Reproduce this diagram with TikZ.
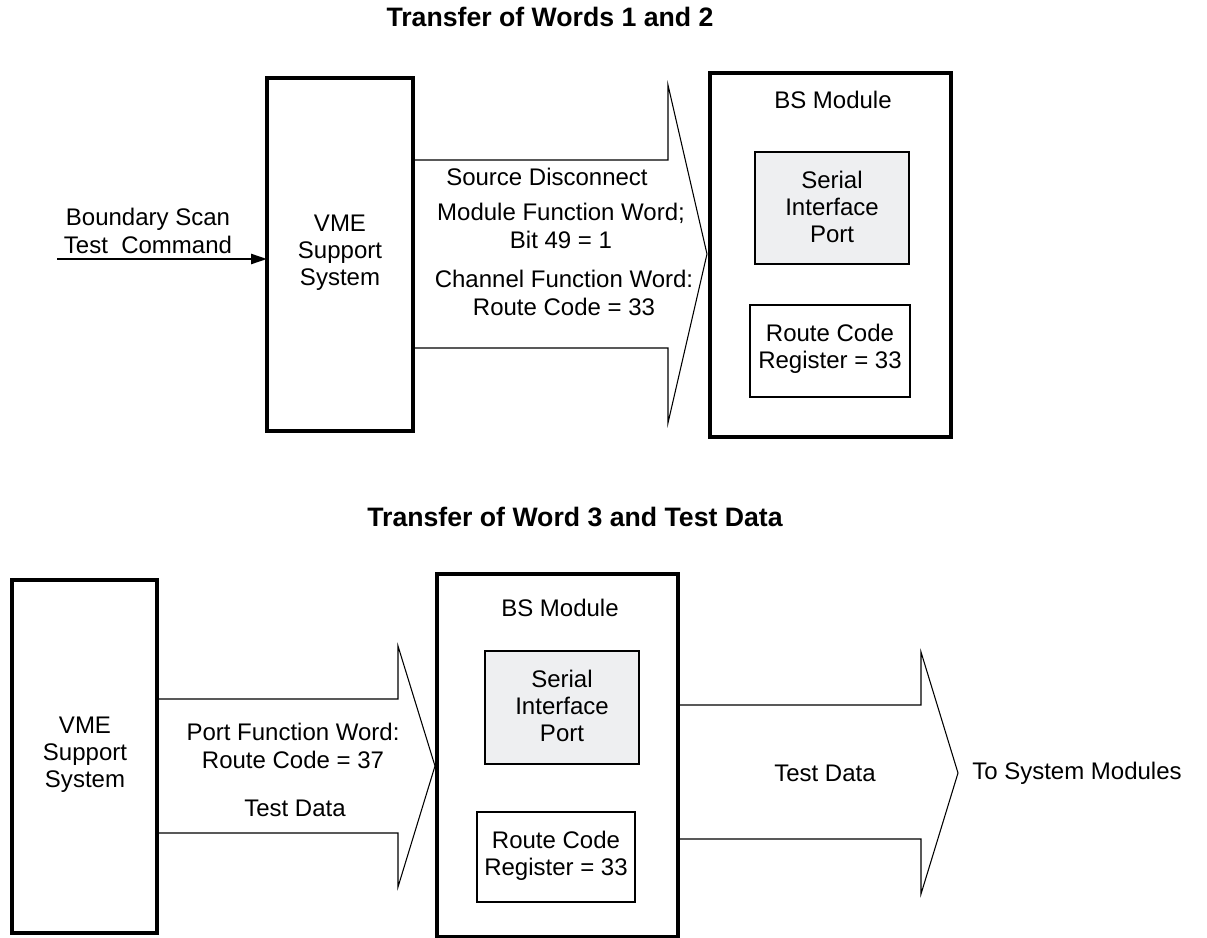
\documentclass[tikz,border=0pt]{standalone}
\usepackage{fontspec}
\setmainfont{Liberation Sans}
\usetikzlibrary{arrows.meta,calc}
\definecolor{portfill}{RGB}{238,239,241}
\newcommand{\bodysize}{\fontsize{18}{20.4}\selectfont}
\newcommand{\headsize}{\fontsize{20}{24}\selectfont}
\tikzset{
  frame/.style={draw, line width=2.6pt},
  subbox/.style={draw, line width=1.6pt},
  flow/.style={draw, line width=0.8pt, line join=miter},
  lbl/.style={inner sep=0pt, align=center},
  heading/.style={inner sep=0pt, font=\headsize\bfseries},
  cmd/.style={line width=1.8pt, -{Triangle[length=12pt,width=7.5pt]}}
}
\begin{document}
\begin{tikzpicture}[x=0.75pt, y=-0.75pt, font=\bodysize]
\useasboundingbox (0,0) rectangle (1207,938);

% ---------------- upper diagram ----------------
\node[heading] (t1) at (550,17) {Transfer of Words 1 and 2};

\draw[frame] (267,78) rectangle (413,431);
\node[lbl] (vme1) at (340,253) {VME\\Support\\System};
\coordinate (vme1W) at (267,259);
\coordinate (vme1E) at (413,254);

\coordinate (cmdin) at (57,259);
\draw[cmd] (cmdin) -- (vme1W);
\node[lbl] (cmdtxt) at (148,231) {Boundary Scan\\Test\ \ Command};

\draw[frame] (710,73) rectangle (951,437);
\coordinate (bs1W) at (710,254);
\node[lbl] (bs1) at (833,100) {BS Module};
\draw[subbox, fill=portfill] (755,152) rectangle (909,264);
\node[lbl] (sip1) at (832,207) {Serial\\Interface\\Port};
\draw[subbox] (750,305) rectangle (910,397);
\node[lbl] (rcr1) at (830,349) {Route Code\\Register = 33};

% wide transfer arrow
\draw[flow] (vme1E |- 0,160) -- (668,160) -- (668,85) -- ($(bs1W)+(-3,0)$)
  -- (668,423) -- (668,348) -- (vme1E |- 0,348);
\node[lbl] (sd) at (547,177) {Source Disconnect};
\node[lbl] (mfw) at (561,226) {Module Function Word;\\Bit 49 = 1};
\node[lbl] (cfw) at (564,293) {Channel Function Word:\\Route Code = 33};

% ---------------- lower diagram ----------------
\node[heading] (t2) at (575,517) {Transfer of Word 3 and Test Data};

\draw[frame] (12,580) rectangle (157,933);
\node[lbl] (vme2) at (85,755) {VME\\Support\\System};
\coordinate (vme2E) at (157,766);

\draw[frame] (437,574) rectangle (678,937);
\coordinate (bs2W) at (437,766);
\coordinate (bs2E) at (678,772);
\node[lbl] (bs2) at (560,608) {BS Module};
\draw[subbox, fill=portfill] (485,651) rectangle (639,764);
\node[lbl] (sip2) at (562,706) {Serial\\Interface\\Port};
\draw[subbox] (477,812) rectangle (635,902);
\node[lbl] (rcr2) at (556,856) {Route Code\\Register = 33};

% transfer arrow into the module
\draw[flow] (vme2E |- 0,699) -- (398,699) -- (398,646) -- ($(bs2W)+(-2,0)$)
  -- (398,887) -- (398,833) -- (vme2E |- 0,833);
\node[lbl] (pfw) at (293,746) {Port Function Word:\\Route Code = 37};
\node[lbl] (td1) at (295,808) {Test Data};

% transfer arrow out of the module
\coordinate (outtip) at (958,773);
\draw[flow] (bs2E |- 0,705) -- (921,705) -- (921,652) -- (outtip)
  -- (921,894) -- (921,839) -- (bs2E |- 0,839);
\node[lbl] (td2) at (825,773) {Test Data};
\node[lbl, anchor=west] (sysmod) at ($(outtip)+(14,0)$) {To System Modules};
\end{tikzpicture}
\end{document}
